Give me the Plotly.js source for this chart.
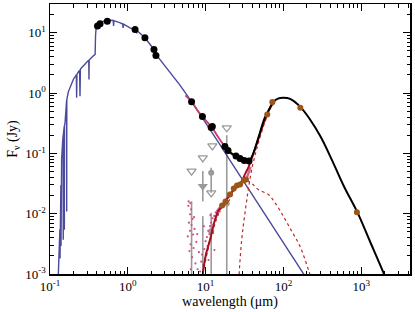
<!DOCTYPE html>
<html><head><meta charset="utf-8">
<script src="https://cdn.plot.ly/plotly-3.0.1.min.js"></script>
<style>html,body{margin:0;padding:0;background:#fff}#c{width:415px;height:312px}</style>
</head><body><div id="c"></div>
<script>
// ---- stellar photosphere model (blue) ----
const starWl = [0.128,0.131,0.134,0.1345,0.135,0.137,0.138,0.1385,0.139,0.141,0.145,0.1475,0.148,0.1485,0.1525,0.153,0.1535,0.156,0.1635,0.164,0.1645,0.172,0.19,0.2,0.218,0.22,0.222,0.24,0.243,0.246,0.27,0.3,0.315,0.317,0.319,0.35,0.375,0.38,0.385,0.39,0.41,0.44,0.48,0.54,0.6,0.65,0.656,0.662,0.8,0.86,0.87,0.88,1.07,1.24,1.29,1.3,1.31,1.66,2.17,2.3,3.4,4.6,6.6,10,15,20,30,50,100,200];
const starF  = [0.001,0.003,0.0055,0.0018,0.0065,0.018,0.03,0.0029,0.035,0.08,0.15,0.2,0.0037,0.21,0.28,0.0054,0.29,0.32,0.75,0.0109,0.78,1.05,1.48,1.7,2.0,0.84,2.05,2.4,0.89,2.5,2.9,3.3,3.5,1.68,3.55,4.0,4.3,4.4,9.0,11.4,12.8,14.2,15.5,16.3,16.3,16.0,13.0,15.9,14.6,14.0,12.0,13.9,12.1,11.3,11.0,9.8,10.9,8.3,5.3,4.4,2.3,1.4,0.72,0.326,0.145,0.0815,0.036,0.013,0.0033,0.00083];

// ---- photometry (black points) ----
const photWl = [0.408,0.44,0.545,1.24,1.66,2.17,2.3,6.6,9.1,11.8,12.2,17.7,19.4,24.6,27.7,31.4,36.1];
const photF  = [13.0,14.2,15.6,11.3,8.3,5.3,4.2,0.72,0.41,0.27,0.28,0.130,0.112,0.0906,0.082,0.076,0.075];

// ---- far-IR / submm excess photometry (brown) ----
const firWl = [62,72,165,880];
const firF  = [0.44,0.71,0.57,0.0106];
// ---- mid-IR excess (brown, binned IRS) ----
const irsExWl = [16.3,18.0,20.5,23.0,25.3,27.7,31.0,33.0];
const irsExF  = [0.0137,0.0159,0.0208,0.0262,0.0294,0.0305,0.0356,0.0369];

// ---- total model (black line) ----
const totWl = [17.7,18.5,24.6,31,36.1,39.5,44.4,50,56.4,62.5,74,85,100,122,167,220,300,418,601,891,1298,1963,2500];
const totF  = [0.13,0.118,0.090,0.076,0.075,0.089,0.135,0.222,0.365,0.476,0.71,0.81,0.835,0.80,0.58,0.365,0.19,0.079,0.0283,0.0106,0.00346,0.001,0.00045];

// ---- disk excess model (dark red solid) ----
const excWl = [9.2,10.1,11.4,12.8,14.4,16.2,18.7,22,25.1,29,32,35.4,39,44.5,50,56,67,75];
const excF  = [0.001,0.0021,0.0037,0.0069,0.0109,0.0133,0.0172,0.023,0.0286,0.034,0.045,0.058,0.082,0.133,0.21,0.32,0.56,0.70];

// ---- warm component (red dotted) ----
const warmWl = [9.2,12,16,20,25,29,32.1,36,40,47.5,64,78,99.8,128,163,209,260];
const warmF  = [0.001,0.0045,0.0125,0.0165,0.0275,0.033,0.0356,0.034,0.031,0.0252,0.0208,0.0152,0.0091,0.0051,0.0029,0.00119,0.0005];
// ---- cold component (red dotted) ----
const coldWl = [26.5,27.0,29.1,32.1,35.4,39.1,44.5,50,56.3,67.3,78];
const coldF  = [0.0005,0.001,0.0037,0.0104,0.0252,0.054,0.108,0.184,0.30,0.54,0.70];

// ---- IRS spectrum, total (magenta) ----
const specWl = [5.5,6.6,8,9.1,10.5,12.1,14,16,18,20,22,24.6,27.7,31,34,36];
const specF  = [0.92,0.72,0.50,0.41,0.33,0.27,0.20,0.155,0.125,0.105,0.096,0.090,0.082,0.077,0.075,0.076];
// ---- IRS spectrum, excess (pink) ----
const spexWl = [14,15,16,17,18,19,20,21,22,23.5,25,26.5,28,29.5,31,32.5,34,36,38];
const spexF  = [0.011,0.0122,0.0135,0.0150,0.0162,0.0185,0.020,0.0225,0.024,0.0265,0.029,0.0298,0.031,0.0335,0.035,0.037,0.040,0.050,0.060];
const noiseWl = [5.9,6.0,6.1,6.2,6.3,6.3,6.4,6.5,6.6,6.7,6.8,6.9,7.0,7.2,7.4,7.6,7.9,8.2,8.5,8.8,9.0,9.3,9.6,9.8,10.0,10.2,10.4,10.6,10.8,11.0,11.2,11.4,11.6,11.8,12.0,12.3,12.6,12.9,13.2,13.5,13.8,14.1,14.4,14.8,15.2,15.6,6.05,6.45,10.9,11.5,12.5,13.0,7.1,7.8,6.35,9.5];
const noiseF  = [0.0042,0.0135,0.0071,0.0024,0.0098,0.0052,0.0031,0.0118,0.0065,0.0019,0.0082,0.0045,0.0027,0.0056,0.0015,0.0034,0.0012,0.0023,0.0011,0.0016,0.0021,0.0014,0.0026,0.0018,0.0035,0.0022,0.0041,0.0029,0.0052,0.0033,0.0046,0.0062,0.0038,0.0071,0.0055,0.0084,0.0066,0.0092,0.0077,0.0105,0.0088,0.0112,0.0096,0.0121,0.0108,0.0125,0.0160,0.0012,0.0017,0.0095,0.0048,0.0025,0.0088,0.0046,0.0150,0.0062];

// ---- grey low-S/N measurements ----
const gBarWl = [6.6,9.2,9.2,11.8,11.8,18.7];
const gBarLo = [1e-5,1e-5,0.016,1e-5,0.0223,1e-5];
const gBarHi = [0.0161,0.0091,0.051,0.0104,0.058,0.2];
const gDotWl = [11.8,11.8,18.7];
const gDotF  = [0.0476,0.0051,0.0148];
const gTriWl = [9.2];
const gTriF  = [0.0286];
const gLimWl = [6.6,9.2,12.2,18.7,11.8];
const gLimF  = [0.0507,0.0845,0.133,0.266,0.0222];

// ---- axis ticks ----
const xTickVals = [0.1,1,10,100,1000];
const xTickText = ['10<sup>-1</sup>','10<sup>0</sup>','10<sup>1</sup>','10<sup>2</sup>','10<sup>3</sup>'];
const yTickVals = [0.001,0.01,0.1,1,10];
const yTickText = ['10<sup>-3</sup>','10<sup>-2</sup>','10<sup>-1</sup>','10<sup>0</sup>','10<sup>1</sup>'];

const bx=[], by=[];
gBarWl.forEach((w,i)=>{bx.push(w,w,null); by.push(gBarLo[i],gBarHi[i],null);});

const grey='#9a9a9a';
const traces = [
  {x:bx,y:by,mode:'lines',line:{color:grey,width:1.6},connectgaps:false},
  {x:gLimWl,y:gLimF,mode:'markers',marker:{symbol:'triangle-down-open',size:8,color:grey,line:{width:1.3,color:grey}}},
  {x:gDotWl,y:gDotF,mode:'markers',marker:{symbol:'circle',size:6,color:grey}},
  {x:gTriWl,y:gTriF,mode:'markers',marker:{symbol:'triangle-down',size:9,color:grey}},
  {x:noiseWl,y:noiseF,mode:'markers',marker:{symbol:'circle',size:2.2,color:'#d0508a'}},
  {x:starWl,y:starF,mode:'lines',line:{color:'#4b4a9d',width:1.4}},
  {x:specWl,y:specF,mode:'lines',line:{color:'#c83a6a',width:1.8,shape:'spline'}},
  {x:spexWl,y:spexF,mode:'lines',line:{color:'#d8609a',width:2.4}},
  {x:warmWl,y:warmF,mode:'lines',line:{color:'#c0262a',width:1.2,dash:'dot',shape:'spline'}},
  {x:coldWl,y:coldF,mode:'lines',line:{color:'#c0262a',width:1.2,dash:'dot',shape:'spline'}},
  {x:excWl,y:excF,mode:'lines',line:{color:'#a4121e',width:2,shape:'spline'}},
  {x:totWl,y:totF,mode:'lines',line:{color:'#000',width:2,shape:'spline'}},
  {x:photWl,y:photF,mode:'markers',marker:{symbol:'circle',size:7,color:'#000'}},
  {x:irsExWl,y:irsExF,mode:'markers',marker:{symbol:'circle',size:6,color:'#9c5518'}},
  {x:firWl,y:firF,mode:'markers',marker:{symbol:'circle',size:6,color:'#9c5518'}}
];

const font = {family:'"Liberation Serif", "Times New Roman", serif', size:13, color:'#000'};
const titleFont = {family:'"Liberation Serif", "Times New Roman", serif', size:14, color:'#000'};
const axBase = {
  type:'log', showgrid:false, zeroline:false, showline:true, linecolor:'#000', linewidth:1.5,
  mirror:'ticks', ticks:'inside', ticklen:7, tickwidth:1.2, tickcolor:'#000',
  tickmode:'array', tickfont:font,
  minor:{ticks:'inside', ticklen:3.5, tickwidth:1, tickcolor:'#000', dtick:'D1', showgrid:false}
};
const layout = {
  width:415, height:312, margin:{l:50,r:5,t:4,b:38},
  paper_bgcolor:'#fff', plot_bgcolor:'#fff', showlegend:false, font:font,
  xaxis:Object.assign({}, axBase, {range:[-1,3.627], tickvals:xTickVals, ticktext:xTickText,
        title:{text:'wavelength (μm)', font:titleFont, standoff:2}}),
  yaxis:Object.assign({}, axBase, {range:[-3,1.478], tickvals:yTickVals, ticktext:yTickText,
        title:{text:'F<sub>ν</sub> (Jy)', font:titleFont, standoff:4}})
};
Plotly.newPlot('c', traces, layout, {staticPlot:true});
</script></body></html>
